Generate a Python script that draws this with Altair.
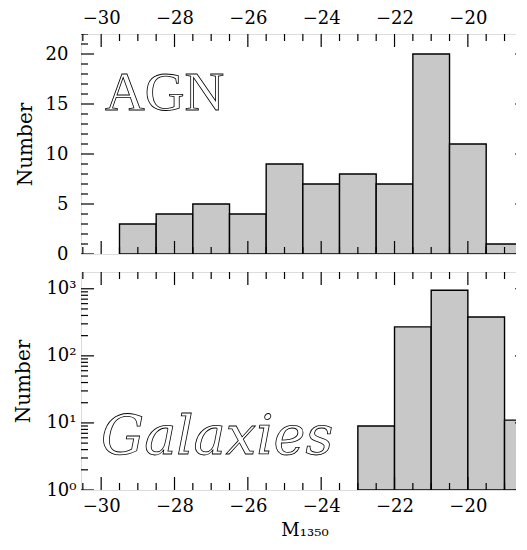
import altair as alt
import pandas as pd
import numpy as np

# ---------------- data ----------------
agn_bin_lo = [-29.5, -28.5, -27.5, -26.5, -25.5, -24.5, -23.5, -22.5, -21.5, -20.5, -19.5]
agn_counts = [3, 4, 5, 4, 9, 7, 8, 7, 20, 11, 1]
gal_bin_lo = [-23.0, -22.0, -21.0, -20.0, -19.0]
gal_counts = [9, 270, 950, 380, 11]
bin_width = 1.0

x_major = [-30, -28, -26, -24, -22, -20]
x_minor = [v for v in np.arange(-30.5, -18.0, 0.5).tolist() if v not in x_major]
y_lin_major = [0, 5, 10, 15, 20]
y_lin_minor = [v for v in range(0, 23) if v not in y_lin_major]
y_log_major = [1, 10, 100, 1000]
y_log_minor = [m * 10 ** k for k in range(0, 4) for m in range(2, 10) if m * 10 ** k < 1778]

# ---------------- layout ----------------
W = 447
H1 = 220
H2 = 218
XMIN, XMAX = -30.55, -18.36
FONT = "DejaVu Serif"
MAJ, MIN = 13, 7

agn_df = pd.DataFrame({"lo": agn_bin_lo, "n": agn_counts})
agn_df["hi"] = agn_df["lo"] + bin_width
agn_df["base"] = 0
gal_df = pd.DataFrame({"lo": gal_bin_lo, "n": gal_counts})
gal_df["hi"] = gal_df["lo"] + bin_width
gal_df["base"] = 1

xscale = alt.Scale(domain=[XMIN, XMAX], nice=False, zero=False)
ylin = alt.Scale(domain=[0, 22], nice=False, zero=False)
ylog = alt.Scale(type="log", domain=[1, 1778], nice=False)

tick_style = dict(color="black", strokeWidth=1.2, clip=True)


def tick_layers(xvals_maj, xvals_min, yvals_maj, yvals_min, yscale, H):
    layers = []
    for vals, L in ((xvals_maj, MAJ), (xvals_min, MIN)):
        d = pd.DataFrame({"v": vals})
        base = alt.Chart(d).mark_rule(**tick_style)
        layers.append(base.encode(x=alt.X("v:Q", scale=xscale), y=alt.value(0), y2=alt.value(L)))
        layers.append(base.encode(x=alt.X("v:Q", scale=xscale), y=alt.value(H), y2=alt.value(H - L)))
    for vals, L in ((yvals_maj, MAJ), (yvals_min, MIN)):
        d = pd.DataFrame({"v": vals})
        base = alt.Chart(d).mark_rule(**tick_style)
        layers.append(base.encode(y=alt.Y("v:Q", scale=yscale), x=alt.value(0), x2=alt.value(L)))
        layers.append(base.encode(y=alt.Y("v:Q", scale=yscale), x=alt.value(W), x2=alt.value(W - L)))
    return layers


def axis_style(**kw):
    d = dict(
        ticks=False, domain=False, grid=False,
        labelFont=FONT, labelFontSize=18, labelColor="black",
        titleFont=FONT, titleFontSize=20, titleFontWeight="normal", titleColor="black",
    )
    d.update(kw)
    return alt.Axis(**d)


# ---------------- top panel (AGN) ----------------
agn_bars = alt.Chart(agn_df).mark_bar(
    fill="#c8c8c8", stroke="black", strokeWidth=1.4, clip=True
).encode(
    x=alt.X("lo:Q", scale=xscale,
            axis=axis_style(orient="top", values=x_major, title=None, labelPadding=7)),
    x2="hi:Q",
    y=alt.Y("n:Q", scale=ylin,
            axis=axis_style(values=y_lin_major, title="Number", labelPadding=13, titlePadding=10)),
    y2="base:Q",
)

agn_label = alt.Chart(pd.DataFrame({"t": ["AGN"]})).mark_text(
    font="Liberation Serif", fontSize=55, fill="white", stroke="black", strokeWidth=0.8,
    align="left", baseline="alphabetic"
).encode(x=alt.value(24), y=alt.value(76), text="t:N")

top = alt.layer(
    agn_bars, *tick_layers(x_major, x_minor, y_lin_major, y_lin_minor, ylin, H1), agn_label
).properties(width=W, height=H1)

# ---------------- bottom panel (Galaxies) ----------------
gal_bars = alt.Chart(gal_df).mark_bar(
    fill="#c8c8c8", stroke="black", strokeWidth=1.4, clip=True
).encode(
    x=alt.X("lo:Q", scale=xscale,
            axis=axis_style(orient="bottom", values=x_major, title="M₁₃₅₀", labelPadding=7,
                            titlePadding=6, titleFontSize=18)),
    x2="hi:Q",
    y=alt.Y("n:Q", scale=ylog,
            axis=axis_style(values=y_log_major, title="Number", labelPadding=5, titlePadding=12,
                            labelExpr="'10' + (datum.value == 1 ? '⁰' : datum.value == 10 ? '¹' : datum.value == 100 ? '²' : '³')")),
    y2="base:Q",
)

gal_label = alt.Chart(pd.DataFrame({"t": ["Galaxies"]})).mark_text(
    font=FONT, fontStyle="italic", fontSize=54, fill="white", stroke="black", strokeWidth=0.8,
    align="left", baseline="alphabetic"
).encode(x=alt.value(20), y=alt.value(182), text="t:N")

bottom = alt.layer(
    gal_bars, *tick_layers(x_major, x_minor, y_log_major, y_log_minor, ylog, H2), gal_label
).properties(width=W, height=H2)

chart = alt.vconcat(top, bottom, spacing=18, bounds="flush").properties(
    padding={"left": 5, "top": 0, "bottom": 0, "right": -13}
).configure_view(
    stroke="black", strokeWidth=2
).configure(background="white")

chart.save("out.html", embed_options={"renderer": "svg", "actions": False})
